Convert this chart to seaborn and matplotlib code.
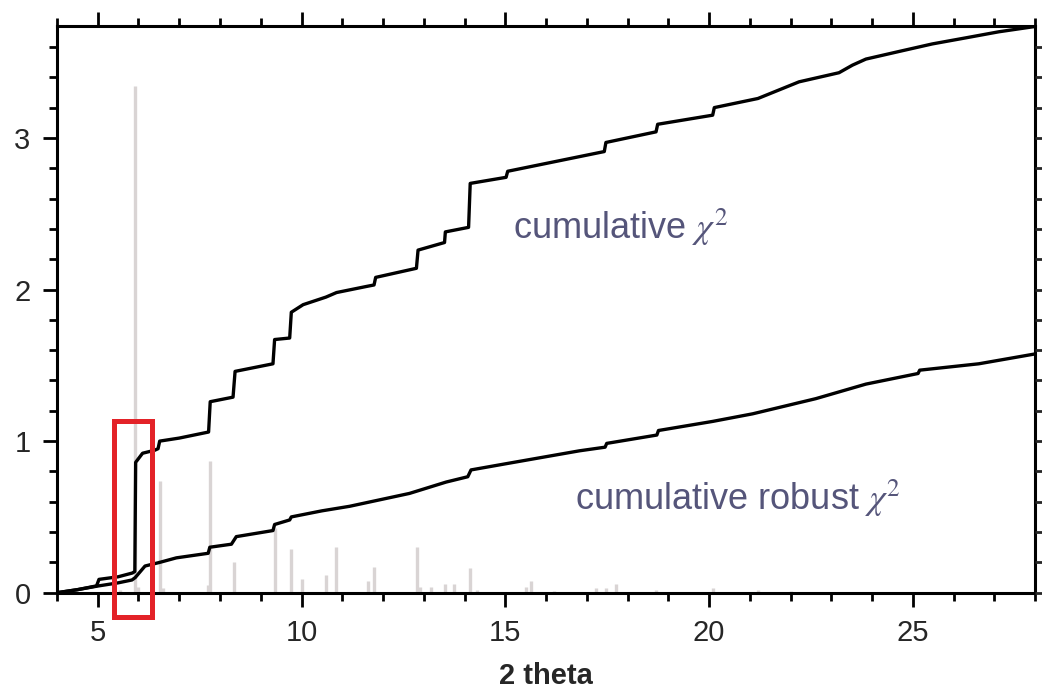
import matplotlib
matplotlib.use("Agg")
import matplotlib.pyplot as plt
import seaborn as sns
import pandas as pd
from matplotlib.patches import Rectangle
from matplotlib.ticker import MultipleLocator

# ---- data ----
cum_x = [4.0, 4.5, 4.97, 5.0, 5.03, 5.5, 5.85, 5.91, 5.93, 6.1, 6.4, 6.48, 6.52, 7.0,
         7.72, 7.76, 8.32, 8.37, 9.30, 9.34, 9.71, 9.75, 10.04, 10.6, 10.86, 11.59,
         11.78, 11.82, 12.82, 12.86, 13.51, 13.53, 14.10, 14.14, 15.02, 15.06, 17.43,
         17.47, 18.70, 18.74, 20.09, 20.13, 21.2, 22.21, 23.19, 23.52, 23.85, 24.66,
         25.48, 26.30, 27.11, 28.0]
cum_y = [0.0, 0.02, 0.045, 0.066, 0.088, 0.105, 0.13, 0.14, 0.86, 0.92, 0.94, 0.95, 1.0, 1.02,
         1.06, 1.26, 1.29, 1.46, 1.51, 1.67, 1.68, 1.85, 1.90, 1.95, 1.98, 2.02,
         2.03, 2.08, 2.14, 2.26, 2.31, 2.38, 2.41, 2.70, 2.74, 2.78, 2.91,
         2.97, 3.04, 3.09, 3.15, 3.20, 3.26, 3.37, 3.43, 3.48, 3.52, 3.57,
         3.62, 3.66, 3.70, 3.735]

rob_x = [4.0, 4.5, 5.0, 5.5, 5.84, 5.92, 6.16, 6.52, 6.93, 7.71, 7.75, 8.28, 8.40, 9.30,
         9.34, 9.71, 9.75, 10.5, 11.18, 12.65, 13.55, 14.08, 14.16, 15.0, 16.82, 17.45,
         17.49, 18.72, 18.76, 20.09, 21.07, 22.62, 23.85, 25.13, 25.17, 26.62, 28.0]
rob_y = [0.0, 0.02, 0.044, 0.065, 0.084, 0.10, 0.176, 0.20, 0.23, 0.26, 0.30, 0.32, 0.37, 0.41,
         0.45, 0.48, 0.50, 0.54, 0.57, 0.655, 0.73, 0.765, 0.81, 0.85, 0.936, 0.96,
         0.985, 1.04, 1.07, 1.13, 1.18, 1.28, 1.376, 1.446, 1.468, 1.51, 1.575]

peak_x = [5.55, 5.91, 6.0, 6.52, 6.6, 7.7, 7.75, 8.35, 9.34, 9.74, 10.0, 10.61, 10.85,
          11.63, 11.79, 12.83, 12.9, 13.19, 13.51, 13.73, 14.14, 14.3, 15.5, 15.62,
          16.2, 17.23, 17.47, 17.72, 18.7, 20.1, 21.2, 22.0]
peak_h = [0.02, 3.34, 0.04, 0.74, 0.03, 0.05, 0.87, 0.20, 0.43, 0.29, 0.09, 0.12, 0.30,
          0.08, 0.17, 0.30, 0.04, 0.04, 0.06, 0.06, 0.16, 0.02, 0.04, 0.08,
          0.01, 0.03, 0.03, 0.06, 0.02, 0.03, 0.015, 0.01]

label_cum = r"cumulative $\chi^2$"
label_rob = r"cumulative robust $\chi^2$"
xlabel = "2 theta"

# ---- style ----
sns.set_style("white")
plt.rcParams["font.family"] = ["Liberation Sans", "DejaVu Sans"]
plt.rcParams["mathtext.fontset"] = "stix"

fig = plt.figure(figsize=(10.42, 6.88), dpi=100)
ax = fig.add_axes([0.0547, 0.1385, 0.9386, 0.8241])

# stick pattern
ax.vlines(peak_x, 0, peak_h, colors="#d9d4d4", linewidth=2.4, zorder=1)

df_cum = pd.DataFrame({"x": cum_x, "y": cum_y})
df_rob = pd.DataFrame({"x": rob_x, "y": rob_y})
sns.lineplot(data=df_cum, x="x", y="y", sort=False, estimator=None, color="black",
             linewidth=2.4, ax=ax, zorder=3)
sns.lineplot(data=df_rob, x="x", y="y", sort=False, estimator=None, color="black",
             linewidth=2.4, ax=ax, zorder=3)

ax.set_xlim(4, 28)
ax.set_ylim(0, 3.74)

ax.xaxis.set_major_locator(MultipleLocator(5))
ax.xaxis.set_minor_locator(MultipleLocator(1))
ax.yaxis.set_major_locator(MultipleLocator(1))
ax.yaxis.set_minor_locator(MultipleLocator(0.2))

for s in ax.spines.values():
    s.set_linewidth(2.2)
    s.set_color("black")

ax.tick_params(which="both", direction="out", top=True, bottom=True, left=True, right=False,
               width=2.0, color="black", labelsize=21, pad=9)
ax.tick_params(which="major", length=10)
ax.tick_params(which="minor", length=6)

# right-hand ticks (short, every 0.2)
axr = ax.twinx()
axr.set_ylim(ax.get_ylim())
axr.yaxis.set_major_locator(MultipleLocator(0.2))
axr.tick_params(axis="y", direction="out", length=5, width=2.0, labelright=False)
axr.grid(False)
for s in axr.spines.values():
    s.set_visible(False)

ax.set_xlabel(xlabel, fontsize=21, fontweight="semibold")
ax.xaxis.set_label_coords(0.5, -0.122)
ax.set_ylabel("")

ax.text(15.18, 2.336, label_cum, fontsize=26, color="#55557a", va="baseline", ha="left")
ax.text(16.70, 0.545, label_rob, fontsize=26, color="#55557a", va="baseline", ha="left")

rect = Rectangle((5.41, -0.163), 6.34 - 5.41, 1.13 + 0.163, fill=False,
                 edgecolor="#e32228", linewidth=3.6, clip_on=False, zorder=5)
ax.add_patch(rect)

fig.savefig("out.png", dpi=100)
